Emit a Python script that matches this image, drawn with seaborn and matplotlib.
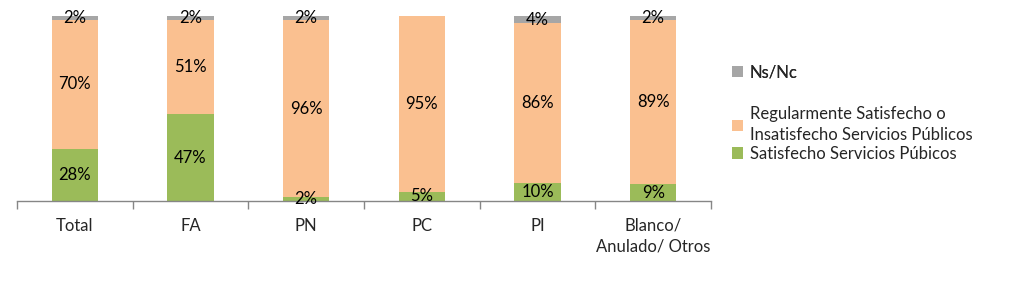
import matplotlib
matplotlib.use("Agg")
import matplotlib.pyplot as plt
import seaborn as sns
import pandas as pd
import numpy as np
from matplotlib.patches import Patch

categories = ["Total", "FA", "PN", "PC", "PI", "Blanco/\nAnulado/ Otros"]
satisfecho = [28, 47, 2, 5, 10, 9]
regular = [70, 51, 96, 95, 86, 89]
nsnc = [2, 2, 2, 0, 4, 2]

series_names = ["Satisfecho Servicios Púbicos",
                "Regularmente Satisfecho o\nInsatisfecho Servicios Públicos",
                "Ns/Nc"]
colors = ["#9BBB59", "#FAC090", "#A6A6A6"]

sns.set_theme(style="white")
plt.rcParams["font.family"] = ["Lato", "DejaVu Sans"]

FS = 12

fig = plt.figure(figsize=(10.24, 2.9), dpi=100)
ax = fig.add_axes([17/1024, 1-201/290, (711-17)/1024, (201-16)/290])

bottom = np.zeros(len(categories))
values_list = [satisfecho, regular, nsnc]
for vals, col in zip(values_list, colors):
    vals = np.array(vals, dtype=float)
    sns.barplot(x=categories, y=vals, bottom=bottom, color=col, width=0.4,
                saturation=1, ax=ax, linewidth=0, errorbar=None)
    cont = ax.containers[-1]
    labels = [f"{int(v)}%" if v > 0 else "" for v in vals]
    ax.bar_label(cont, labels=labels, label_type="center", fontsize=FS, color="#000000")
    bottom = bottom + vals

ax.set_ylim(0, 100)
ax.set_xlim(-0.5, len(categories) - 0.5)
ax.set_yticks([])
for s in ["top", "right", "left"]:
    ax.spines[s].set_visible(False)
ax.spines["bottom"].set_color("#868686")
ax.spines["bottom"].set_linewidth(1)
ax.set_xticks(np.arange(-0.5, len(categories), 1.0), minor=True)
ax.tick_params(axis="x", which="minor", bottom=True, length=6, color="#868686", width=1)
ax.tick_params(axis="x", which="major", bottom=False, length=0, pad=12, labelsize=FS)
for t in ax.get_xticklabels():
    t.set_linespacing(1.4)
ax.set_xlabel("")
ax.set_ylabel("")

h_n = [Patch(facecolor=colors[2], edgecolor="none")]
h_rs = [Patch(facecolor=colors[1], edgecolor="none"), Patch(facecolor=colors[0], edgecolor="none")]
leg1 = fig.legend(h_n, [series_names[2]], loc="center left", bbox_to_anchor=(732/1024, 1-72/290),
                  frameon=False, fontsize=FS, handlelength=0.65, handleheight=0.65, handletextpad=0.4,
                  borderaxespad=0, borderpad=0)
leg2 = fig.legend(h_rs, [series_names[1], series_names[0]], loc="center left",
                  bbox_to_anchor=(732/1024, 1-134/290), frameon=False, fontsize=FS,
                  handlelength=0.65, handleheight=0.65, handletextpad=0.4, labelspacing=0.15,
                  borderaxespad=0, borderpad=0)
for t in leg2.get_texts():
    t.set_linespacing(1.4)
fig.add_artist(leg1)

fig.savefig("out.png", dpi=100)
